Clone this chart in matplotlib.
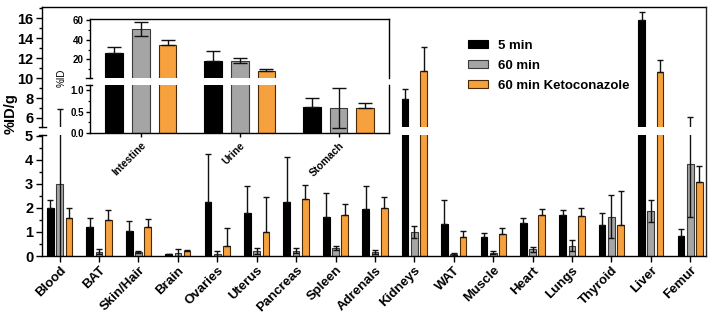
import matplotlib
matplotlib.use("Agg")
import matplotlib.pyplot as plt
import numpy as np
from matplotlib.lines import Line2D
from matplotlib.patches import Patch
from matplotlib.ticker import MultipleLocator

plt.rcParams['font.family'] = ['Liberation Sans', 'DejaVu Sans']
plt.rcParams['font.weight'] = 'bold'

# ---------------- data ----------------
organs = ["Blood", "BAT", "Skin/Hair", "Brain", "Ovaries", "Uterus", "Pancreas", "Spleen",
          "Adrenals", "Kidneys", "WAT", "Muscle", "Heart", "Lungs", "Thyroid", "Liver", "Femur"]
min5 = [2.0, 1.21, 1.03, 0.07, 2.26, 1.81, 2.24, 1.61, 1.97, 7.93, 1.32, 0.78, 1.39, 1.69, 1.31, 15.77, 0.83]
min5_err = [0.32, 0.37, 0.41, 0.02, 1.98, 1.12, 1.89, 1.0, 0.96, 0.97, 1.0, 0.19, 0.18, 0.24, 0.5, 0.86, 0.31]
min60 = [3.0, 0.18, 0.15, 0.12, 0.10, 0.22, 0.22, 0.35, 0.17, 0.99, 0.08, 0.14, 0.28, 0.43, 1.64, 1.875, 3.83]
min60_err = [3.9, 0.11, 0.04, 0.17, 0.09, 0.13, 0.10, 0.08, 0.09, 0.25, 0.04, 0.06, 0.11, 0.24, 0.9, 0.45, 2.22]
keto = [1.58, 1.49, 1.19, 0.19, 0.42, 1.0, 2.36, 1.72, 1.99, 10.7, 0.81, 0.93, 1.69, 1.68, 1.28, 10.6, 3.08]
keto_err = [0.42, 0.43, 0.35, 0.07, 0.75, 1.44, 0.6, 0.45, 0.48, 2.4, 0.23, 0.22, 0.28, 0.33, 1.44, 1.2, 0.66]

inset_cats = ["Intestine", "Urine", "Stomach"]
in5 = [26.9, 18.0, 0.61]
in5_err = [6.1, 10.9, 0.2]
in60 = [50.8, 18.7, 0.58]
in60_err = [7.5, 2.6, 0.47]
inK = [34.4, 8.4, 0.58]
inK_err = [4.8, 2.1, 0.11]

series_labels = ["5 min", "60 min", "60 min Ketoconazole"]
colors = ["#000000", "#a5a5a5", "#f6a03e"]
edges = ["#000000", "#3a3a3a", "#4a2a05"]

W, H = 708, 321
fig = plt.figure(figsize=(W / 100, H / 100), dpi=100)


def fx(px):
    return px / W


def fy(py):
    return 1 - py / H


def rect(x0, y0, x1, y1):
    return [fx(x0), fy(y1), fx(x1) - fx(x0), fy(y0) - fy(y1)]


def draw_bars(ax, xpos, series, off, bw, capsize, lo=None):
    for i, (vals, err, sym) in enumerate(series):
        v = np.array(vals, dtype=float)
        e = np.array(err, dtype=float)
        top = v + e
        if lo is not None:
            keep_bar = v > lo
            keep_err = top > lo
        else:
            keep_bar = np.ones_like(v, bool)
            keep_err = keep_bar
        lower = e if sym else np.zeros_like(e)
        vb = np.where(keep_bar, v, np.nan)
        ax.bar(xpos + (i - 1) * off, np.nan_to_num(vb, nan=0.0), width=bw,
               color=colors[i], edgecolor=edges[i], linewidth=0.8, zorder=2,
               alpha=1.0)
        if lo is not None:
            # hide bars that lie completely below the segment
            for p, k in zip(ax.patches[-len(v):], keep_bar):
                p.set_visible(bool(k))
        ve = np.where(keep_err, v, np.nan)
        ax.errorbar(xpos + (i - 1) * off, ve, yerr=[lower, e], fmt='none', ecolor='#111111',
                    elinewidth=1.0, capsize=capsize, capthick=1.0, zorder=3)


# main axes (broken)
ax_top = fig.add_axes(rect(41.5, 7, 706, 127))
ax_bot = fig.add_axes(rect(41.5, 135, 706, 256))

x = np.arange(len(organs))
data = [(min5, min5_err, False), (min60, min60_err, True), (keto, keto_err, False)]
TOP_LO = 5.1
draw_bars(ax_top, x, data, 0.235, 0.17, 2.5, lo=TOP_LO)
draw_bars(ax_bot, x, data, 0.235, 0.17, 2.5)
for ax in (ax_top, ax_bot):
    ax.set_xlim(-0.46, 16.4)
    ax.spines['right'].set_visible(False)
    for s in ax.spines.values():
        s.set_linewidth(1.0)

ax_top.set_ylim(TOP_LO, 17.1)
ax_bot.set_ylim(0, 5.04)
ax_top.spines['bottom'].set_visible(False)
ax_bot.spines['top'].set_visible(False)
ax_top.set_xticks([])
ax_top.set_yticks([6, 8, 10, 12, 14, 16])
ax_top.yaxis.set_minor_locator(MultipleLocator(1))
ax_bot.yaxis.set_major_locator(MultipleLocator(1))
ax_bot.yaxis.set_minor_locator(MultipleLocator(0.5))
ax_bot.set_xticks(x)
ax_bot.set_xticklabels(organs, rotation=45, ha='right', rotation_mode='anchor',
                       fontsize=9.5, fontweight='bold')
for ax in (ax_top, ax_bot):
    ax.tick_params(axis='y', which='major', length=4, width=1, labelsize=10.5, pad=2)
    ax.tick_params(axis='y', which='minor', length=2, width=1)
    for lab in ax.get_yticklabels():
        lab.set_fontweight('bold')
ax_bot.tick_params(axis='x', length=4, width=1, pad=2)

# break marks on main axis
for ax, yy in ((ax_top, 0), (ax_bot, 1)):
    ax.plot([-0.004, 0.007], [yy, yy], transform=ax.transAxes, color='black', lw=1.0,
            clip_on=False, zorder=5)

fig.text(fx(11), fy(114), "%ID/g", rotation=90, ha='center', va='center', fontsize=10.5,
         fontweight='bold')

# right frame line
fig.add_artist(Line2D([fx(705.5), fx(705.5)], [fy(7), fy(256)], color='#222222', lw=1.0))

# legend
handles = [Patch(facecolor=colors[i], edgecolor=edges[i], linewidth=0.8) for i in range(3)]
fig.legend(handles, series_labels, loc='upper left', bbox_to_anchor=(fx(456), fy(28)),
           frameon=False, handlelength=1.5, handleheight=0.55,
           labelspacing=0.6, handletextpad=0.75, prop={'weight': 'bold', 'size': 9.5})

# inset (broken)
in_top = fig.add_axes(rect(90, 19, 389, 78))
in_bot = fig.add_axes(rect(90, 85, 389, 133))
xi = np.arange(len(inset_cats))
idata = [(in5, in5_err, False), (in60, in60_err, True), (inK, inK_err, False)]
IN_LO = 1.1
draw_bars(in_top, xi, idata, 0.27, 0.18, 5, lo=IN_LO)
draw_bars(in_bot, xi, idata, 0.27, 0.18, 5)
for ax in (in_top, in_bot):
    ax.set_facecolor('white')
    ax.set_zorder(10)
    ax.set_xlim(-0.515, 2.51)
    for s in ax.spines.values():
        s.set_linewidth(1.0)
    ax.tick_params(axis='y', which='major', length=3, width=1, labelsize=7, pad=1.5)
    ax.tick_params(axis='y', which='minor', length=1.5, width=0.8)

in_top.set_ylim(IN_LO, 61)
in_bot.set_ylim(0, 1.12)
in_top.spines['bottom'].set_visible(False)
in_bot.spines['top'].set_visible(False)
in_top.set_xticks([])
in_top.set_yticks([20, 40, 60])
in_top.yaxis.set_minor_locator(MultipleLocator(10))
in_bot.set_yticks([0.0, 0.5, 1.0])
in_bot.set_yticklabels(["0.0", "0.5", "1.0"])
in_bot.yaxis.set_minor_locator(MultipleLocator(0.25))
in_bot.set_xticks(xi)
in_bot.set_xticklabels(inset_cats, rotation=45, ha='right', rotation_mode='anchor',
                       fontsize=7.5, fontweight='bold')
in_bot.tick_params(axis='x', length=3, width=1, pad=2)
for ax in (in_top, in_bot):
    for lab in ax.get_yticklabels():
        lab.set_fontweight('bold')
for ax, yy in ((in_top, 0), (in_bot, 1)):
    ax.plot([-0.012, 0.006], [yy, yy], transform=ax.transAxes, color='black', lw=1.0,
            clip_on=False, zorder=5)

fig.text(fx(62), fy(78), "%ID", rotation=90, ha='center', va='center', fontsize=7,
         fontweight='normal', zorder=20)

fig.savefig("out.png", dpi=100)
